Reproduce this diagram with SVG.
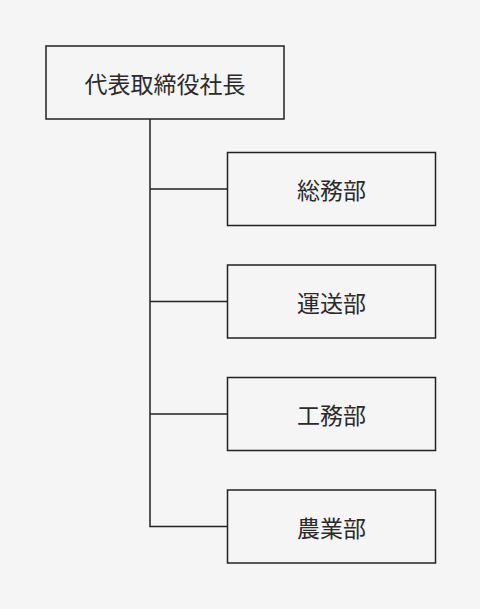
<svg xmlns="http://www.w3.org/2000/svg" width="480" height="609" viewBox="0 0 480 609">
<style>
.box{fill:#f5f5f5;stroke:#222;stroke-width:1.5}
.lbl{font-family:"Noto Sans CJK JP","Noto Sans CJK SC",sans-serif;font-size:23px;fill:#2a2a2a;text-anchor:middle;dominant-baseline:central}
.ln{fill:none;stroke:#222;stroke-width:1.5}
</style>
<rect width="480" height="609" fill="#f5f5f5"/>
<g id="connectors">
<path class="ln" d="M150 119V526.5H227.5M150 189H227.5M150 301.5H227.5M150 414H227.5"/>
</g>
<g id="ceo"><rect class="box" x="46" y="46" width="238" height="73"/><text class="lbl" x="165" y="82.5">代表取締役社長</text></g>
<g id="soumu"><rect class="box" x="227.5" y="152.5" width="208" height="73"/><text class="lbl" x="331.5" y="189">総務部</text></g>
<g id="unsou"><rect class="box" x="227.5" y="265" width="208" height="73"/><text class="lbl" x="331.5" y="301.5">運送部</text></g>
<g id="koumu"><rect class="box" x="227.5" y="377.5" width="208" height="73"/><text class="lbl" x="331.5" y="414">工務部</text></g>
<g id="nougyou"><rect class="box" x="227.5" y="490" width="208" height="73"/><text class="lbl" x="331.5" y="526.5">農業部</text></g>
</svg>
